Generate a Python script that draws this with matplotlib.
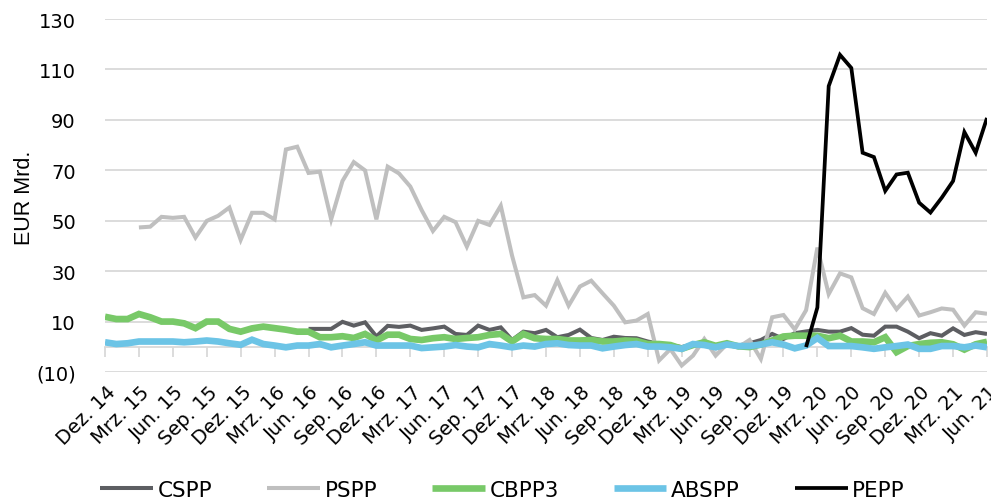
import numpy as np
import matplotlib
matplotlib.use("Agg")
import matplotlib.pyplot as plt
import matplotlib.transforms as mtransforms

nan = np.nan

# Monthly net purchases, Dez. 14 .. Jun. 21 (79 months)
tick_labels = ["Dez. 14", "Mrz. 15", "Jun. 15", "Sep. 15", "Dez. 15", "Mrz. 16", "Jun. 16",
               "Sep. 16", "Dez. 16", "Mrz. 17", "Jun. 17", "Sep. 17", "Dez. 17", "Mrz. 18",
               "Jun. 18", "Sep. 18", "Dez. 18", "Mrz. 19", "Jun. 19", "Sep. 19", "Dez. 19",
               "Mrz. 20", "Jun. 20", "Sep. 20", "Dez. 20", "Mrz. 21", "Jun. 21"]

cspp = [nan] * 18 + [
    7.2, 7.2, 7.2, 10.0, 8.5, 9.8, 4.2, 8.4, 8.0, 8.5, 6.8, 7.4, 8.1, 5.2, 4.8, 8.5, 6.8, 7.8,
    2.8, 6.1, 5.5, 6.8, 3.9, 4.8, 6.9, 3.6, 2.8, 4.1, 3.6, 3.5, 2.2, 1.3, 0.8, 0.0, 1.0, 0.8,
    0.5, 0.8, 0.6, 1.5, 2.8, 5.2, 3.2, 5.5, 6.2, 6.8, 6.1, 6.1, 7.5, 4.9, 4.5, 8.1, 8.1, 6.1,
    3.5, 5.5, 4.5, 7.4, 4.8, 5.9, 5.2]

pspp = [nan] * 3 + [
    47.4, 47.7, 51.6, 51.2, 51.6, 43.4, 50.0, 52.0, 55.3, 42.5, 53.2, 53.2, 50.6, 78.3, 79.4,
    69.0, 69.5, 50.6, 65.8, 73.3, 70.0, 50.6, 71.5, 68.8, 63.6, 54.3, 46.0, 51.6, 49.5, 39.8,
    50.0, 48.4, 56.0, 36.2, 19.7, 20.6, 16.4, 26.5, 16.4, 24.0, 26.3, 21.3, 16.4, 9.8, 10.5,
    13.1, -5.3, -0.8, -7.3, -3.4, 3.2, -3.4, 1.2, -0.1, 2.8, -4.7, 11.8, 12.7, 7.0, 14.6,
    39.4, 21.0, 29.2, 27.6, 15.4, 13.1, 21.5, 15.0, 20.0, 12.5, 13.8, 15.3, 14.8, 8.5, 13.8,
    13.2]

cbpp3 = [
    12.0, 11.1, 11.1, 13.1, 11.8, 10.1, 10.1, 9.4, 7.5, 10.1, 10.1, 7.2, 6.1, 7.4, 8.1, 7.5,
    6.9, 6.1, 6.1, 3.9, 3.9, 4.3, 3.6, 5.2, 2.6, 4.9, 4.9, 3.2, 2.8, 3.5, 3.9, 3.2, 3.6, 3.9,
    4.8, 5.2, 2.2, 5.2, 3.5, 3.2, 3.2, 2.6, 2.6, 2.8, 2.2, 2.2, 2.6, 2.4, 1.2, 1.2, 0.8, -0.7,
    0.8, 1.9, 0.5, 1.5, 0.3, 0.0, 1.0, 2.6, 4.2, 4.5, 4.5, 4.5, 3.5, 4.5, 2.2, 2.2, 1.9, 3.9,
    -2.0, 0.4, 1.2, 1.7, 1.9, 1.1, -1.0, 1.1, 2.1]

abspp = [
    1.9, 1.2, 1.5, 2.2, 2.2, 2.2, 2.2, 1.9, 2.2, 2.6, 2.2, 1.5, 0.9, 2.9, 1.2, 0.6, -0.1, 0.6,
    0.6, 1.2, -0.1, 0.6, 1.2, 1.9, 0.6, 0.6, 0.6, 0.6, -0.4, -0.1, 0.2, 0.8, 0.2, -0.1, 1.2,
    0.6, -0.1, 0.6, 0.2, 1.2, 1.5, 0.8, 0.6, 0.6, -0.5, 0.2, 0.8, 1.2, 0.2, 0.2, -0.1, -0.7,
    1.2, 0.8, -0.1, 1.0, 0.4, 0.4, 1.0, 1.9, 1.0, -0.5, 0.6, 3.6, 0.4, 0.4, 0.4, -0.1, -0.7,
    -0.1, 0.4, 1.0, -0.7, -0.7, 0.4, 0.4, -0.1, 0.6, -0.1]

pepp = [nan] * 62 + [
    0.0, 15.7, 103.4, 115.8, 110.6, 77.0, 75.3, 61.9, 68.4, 69.1, 57.2, 53.3, 59.2, 65.8,
    85.2, 77.0, 90.8]

y_ticks = [-10, 10, 30, 50, 70, 90, 110, 130]
y_tick_labels = ["(10)", "10", "30", "50", "70", "90", "110", "130"]

series = [
    ("CSPP", cspp, "#5d5e62", 2.9),
    ("PSPP", pspp, "#bfbfbf", 2.9),
    ("CBPP3", cbpp3, "#78c968", 4.8),
    ("ABSPP", abspp, "#6cc4e6", 4.8),
    ("PEPP", pepp, "#000000", 2.7),
]

plt.rcParams["font.family"] = ["DejaVu Sans"]
grid_col = "#d9d9d9"

fig = plt.figure(figsize=(9.91, 5.02), dpi=100)
W, H = 991, 502
ax = fig.add_axes([105 / W, 1 - 373.3 / H, (987 - 105) / W, (373.3 - 20) / H])

n = len(cbpp3)
x = np.arange(n)
for name, vals, col, lw in series:
    ax.plot(x, vals, color=col, lw=lw, label=name, solid_joinstyle="miter",
            solid_capstyle="butt")

ymin, ymax = -10, 130
ax.set_ylim(ymin, ymax)
ax.set_xlim(0, n - 1)
ax.set_yticks(y_ticks)
ax.set_yticklabels(y_tick_labels, fontsize=14)
ax.yaxis.grid(True, color=grid_col, lw=1.3)
ax.set_axisbelow(True)
ax.tick_params(axis="y", length=0, pad=21)
for s in ax.spines.values():
    s.set_visible(False)

# Category labels every quarter, at the bottom of the plot area
xt = np.arange(0, n, 3)
ax.set_xticks(xt)
ax.set_xticklabels(tick_labels, fontsize=14, rotation=45, ha="right", va="top",
                   rotation_mode="anchor")
ax.tick_params(axis="x", length=0, pad=7)
shift = mtransforms.ScaledTranslation(1 / 100, 0, fig.dpi_scale_trans)
for lab in ax.get_xticklabels():
    lab.set_transform(lab.get_transform() + shift)

# Category axis line crossing at zero, with tick marks
sec = ax.secondary_xaxis((0 - ymin) / (ymax - ymin))
sec.set_xticks(xt)
sec.tick_params(axis="x", length=7, width=1.3, color=grid_col, labelbottom=False,
                direction="out")
sec.spines["bottom"].set_color(grid_col)
sec.spines["bottom"].set_linewidth(1.3)

fig.text(25 / W, 1 - 198 / H, "EUR Mrd.", rotation=90, ha="center", va="center",
         fontsize=15.5, family=["Liberation Sans", "DejaVu Sans"])

fig.legend(loc="center left", bbox_to_anchor=(100 / W, 1 - 491 / H), ncol=5,
           frameon=False, fontsize=15.5, handlelength=2.45, handletextpad=0.22,
           columnspacing=2.55, borderpad=0, borderaxespad=0)

fig.savefig("out.png", dpi=100)
